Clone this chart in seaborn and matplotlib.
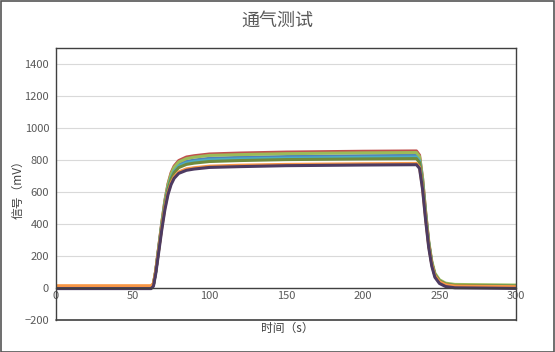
import pandas as pd
import matplotlib
matplotlib.use('Agg')
import matplotlib.pyplot as plt
import seaborn as sns

# time points (s)
time_s = [0, 62, 63.5, 65, 67, 69, 71, 73, 75, 77, 80, 85, 90, 100, 120, 150, 200, 235,
          237, 239, 241, 243, 245, 247, 250, 254, 260, 300]

# signal (mV) for each run
run_blue = [5, 5, 21, 104, 252, 400, 532, 630, 696, 737, 770, 791, 799, 810, 816, 821, 826, 828,
            803, 663, 458, 277, 153, 79, 38, 17, 9, 5]
run_red = [3, 3, 20, 105, 259, 412, 549, 651, 720, 762, 796, 818, 826, 837, 843, 849, 854, 856,
           830, 685, 472, 284, 156, 79, 36, 15, 6, 2]
run_green = [8, 8, 25, 109, 259, 410, 544, 645, 712, 754, 787, 808, 817, 828, 833, 839, 844, 846,
             821, 680, 473, 291, 167, 93, 51, 30, 22, 18]
run_aqua = [6, 6, 22, 103, 250, 396, 526, 623, 688, 729, 761, 781, 790, 800, 806, 811, 816, 818,
            794, 656, 454, 277, 155, 83, 42, 22, 14, 10]
run_olive = [6, 6, 22, 102, 247, 391, 519, 616, 680, 720, 752, 772, 780, 790, 796, 802, 806, 808,
             784, 649, 450, 275, 155, 84, 44, 24, 16, 12]
run_orange = [14, 14, 29, 106, 243, 381, 503, 595, 656, 694, 725, 744, 751, 761, 767, 772, 776, 778,
              755, 624, 432, 262, 147, 77, 39, 20, 12, 8]
run_purple = [-4, -4, 11, 89, 228, 368, 491, 584, 646, 685, 716, 735, 743, 753, 758, 764, 768, 770,
              747, 615, 422, 252, 136, 67, 28, 9, 1, -3]

runs = {
    'blue': run_blue, 'red': run_red, 'green': run_green, 'aqua': run_aqua,
    'olive': run_olive, 'orange': run_orange, 'purple': run_purple,
}
colors = ['#4F81BD', '#C0504D', '#9BBB59', '#4BACC6', '#6E8B3D', '#F79646', '#4D3B62']

rows = []
for name, vals in runs.items():
    for t, v in zip(time_s, vals):
        rows.append({'t': t, 'v': v, 'run': name})
df = pd.DataFrame(rows)

sns.set_style('white')
plt.rcParams['font.family'] = ['Noto Sans CJK SC', 'DejaVu Sans']

fig = plt.figure(figsize=(5.55, 3.52), dpi=100)
ax = fig.add_axes([0.101, 0.091, 0.829, 0.773])

sns.lineplot(data=df, x='t', y='v', hue='run', palette=colors, linewidth=2.2,
             legend=False, ax=ax, estimator=None)

ax.set_xlim(0, 300)
ax.set_ylim(-200, 1500)
ax.set_xticks(range(0, 301, 50))
ax.set_yticks(range(-200, 1401, 200))
ax.grid(axis='y', color='#d9d9d9', linewidth=0.8)
ax.set_axisbelow(True)

frame = '#404040'
for s in ['left', 'right', 'top', 'bottom']:
    ax.spines[s].set_color(frame)
    ax.spines[s].set_linewidth(1.0)
ax.spines['bottom'].set_position(('data', 0))
ax.axhline(-200, color=frame, linewidth=1.2, clip_on=False)

ax.tick_params(axis='both', labelsize=8, labelcolor='#595959', colors=frame, length=3, width=0.8)
ax.tick_params(axis='x', direction='in', pad=2)
ax.tick_params(axis='y', direction='out', pad=2)

ax.set_xlabel('')
ax.set_ylabel('')
fig.text(0.033, 0.47, '信号（mV）', ha='center', va='center', rotation=90, fontsize=8.5, color='#404040')
fig.text(0.517, 0.068, '时间（s）', ha='center', va='center', fontsize=8.5, color='#404040')
fig.text(0.5, 0.94, '通气测试', ha='center', va='center', fontsize=13, color='#595959')

# outer chart border
fig.patches.append(plt.Rectangle((0.001, 0.001), 0.997, 0.997, transform=fig.transFigure,
                                 fill=False, edgecolor='#555555', linewidth=1.2))

fig.savefig('out.png', dpi=100)
